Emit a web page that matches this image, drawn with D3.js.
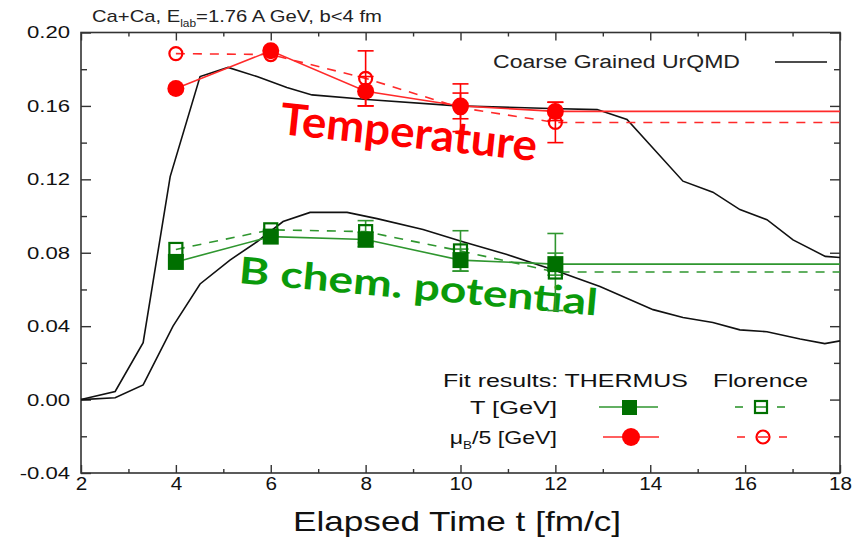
<!DOCTYPE html>
<html>
<head>
<meta charset="utf-8">
<script src="https://cdn.jsdelivr.net/npm/d3@7"></script>
<style>
  html, body { margin: 0; padding: 0; background: #fff; }
  svg { display: block; }
</style>
</head>
<body>
<svg id="chart" width="854" height="540"></svg>
<script>
// ---------------- DATA ----------------
const xTicks = [2, 4, 6, 8, 10, 12, 14, 16, 18];
const xMinorTicks = [3, 5, 7, 9, 11, 13, 15, 17];
const yTicks = [-0.04, 0.00, 0.04, 0.08, 0.12, 0.16, 0.20];
const yMinorTicks = [-0.02, 0.02, 0.06, 0.10, 0.14, 0.18];

// Coarse Grained UrQMD curves
const urqmdTimeA = [2, 2.72, 3.31, 3.88, 4.51, 5.10, 5.71, 6.34, 6.87, 8.03, 9.93, 11.89, 12.88, 13.51, 14.69, 15.32, 15.89, 16.46, 17.01, 17.69, 18];
const urqmdValA  = [0, 0.0044, 0.031, 0.1215, 0.176, 0.181, 0.176, 0.170, 0.166, 0.1635, 0.160, 0.1586, 0.158, 0.1526, 0.119, 0.113, 0.1035, 0.098, 0.087, 0.078, 0.0774];
const urqmdTimeB = [2, 2.72, 3.31, 3.94, 4.51, 5.14, 5.71, 6.26, 6.83, 7.61, 8.24, 9.21, 10.05, 10.98, 12.03, 12.94, 14.06, 14.69, 15.32, 15.89, 16.46, 17.16, 17.68, 18];
const urqmdValB  = [0, 0.001, 0.008, 0.040, 0.063, 0.076, 0.086, 0.097, 0.102, 0.102, 0.0986, 0.0927, 0.086, 0.079, 0.070, 0.0616, 0.049, 0.0447, 0.042, 0.038, 0.037, 0.033, 0.0305, 0.032];

// Fit results
const fitTimes = [4, 6, 8, 10, 12];
const plateauEnd = 18;
const redThermus      = [0.1695, 0.190, 0.168, 0.160, 0.157];
const redThermusErr   = [0, 0, 0.008, 0.007, 0.005];
const redFlorence     = [0.1885, 0.188, 0.175, 0.159, 0.151];
const redFlorenceErr  = [0, 0, 0.015, 0.013, 0.011];
const greenThermus     = [0.075, 0.0888, 0.0872, 0.076, 0.0738];
const greenThermusErr  = [0, 0, 0.004, 0.006, 0.006];
const greenFlorence    = [0.0818, 0.0925, 0.0915, 0.081, 0.0695];
const greenFlorenceErr = [0, 0, 0.006, 0.011, 0.021];

// ---------------- STYLE ----------------
const RED = "#ff0000", RED_LINE = "#ff2a2a";
const GREEN = "#007000", GREEN_LINE = "#2f962f", GREEN_TEXT = "#0a9a0a";
const AXIS = "#333";
const FONT = "'Liberation Sans', Arial, sans-serif";

const svg = d3.select("#chart");
const x = d3.scaleLinear().domain([2, 18]).range([81, 840]);
const y = d3.scaleLinear().domain([-0.04, 0.20]).range([473, 32.5]);

function stretch(sel, f) {
  sel.each(function () {
    const w = this.getComputedTextLength();
    this.setAttribute("textLength", w * f);
    this.setAttribute("lengthAdjust", "spacingAndGlyphs");
  });
}

// ---------------- ANNOTATIONS (drawn under data) ----------------
svg.append("text")
  .attr("transform", `translate(279,134) rotate(6)`)
  .attr("font-family", "Lato, 'Open Sans', sans-serif")
  .attr("font-weight", 700).attr("font-size", 44)
  .attr("fill", RED)
  .attr("textLength", 258).attr("lengthAdjust", "spacingAndGlyphs")
  .text("Temperature");

svg.append("text")
  .attr("transform", `translate(238,283) rotate(5.2)`)
  .attr("font-family", "Lato, 'Open Sans', sans-serif")
  .attr("font-weight", 700).attr("font-size", 37)
  .attr("fill", GREEN_TEXT)
  .attr("textLength", 360).attr("lengthAdjust", "spacingAndGlyphs")
  .text("B chem. potential");

// ---------------- AXES ----------------
const gx = svg.append("g").attr("transform", `translate(0,${y(-0.04)})`)
  .call(d3.axisBottom(x).tickValues(xTicks).tickSizeInner(-8).tickSizeOuter(0).tickPadding(4).tickFormat(d3.format("d")));
const gxm = svg.append("g").attr("transform", `translate(0,${y(-0.04)})`)
  .call(d3.axisBottom(x).tickValues(xMinorTicks).tickSizeInner(-4).tickSizeOuter(0).tickFormat(""));
const gxt = svg.append("g").attr("transform", `translate(0,${y(0.20)})`)
  .call(d3.axisTop(x).tickValues(xTicks).tickSizeInner(-8).tickSizeOuter(0).tickFormat(""));
const gxtm = svg.append("g").attr("transform", `translate(0,${y(0.20)})`)
  .call(d3.axisTop(x).tickValues(xMinorTicks).tickSizeInner(-4).tickSizeOuter(0).tickFormat(""));
const gy = svg.append("g").attr("transform", `translate(${x(2)},0)`)
  .call(d3.axisLeft(y).tickValues(yTicks).tickSizeInner(-10).tickSizeOuter(0).tickPadding(11).tickFormat(d => d.toFixed(2)));
const gym = svg.append("g").attr("transform", `translate(${x(2)},0)`)
  .call(d3.axisLeft(y).tickValues(yMinorTicks).tickSizeInner(-6).tickSizeOuter(0).tickFormat(""));
const gyr = svg.append("g").attr("transform", `translate(${x(18)},0)`)
  .call(d3.axisRight(y).tickValues(yTicks).tickSizeInner(-10).tickSizeOuter(0).tickFormat(""));
const gyrm = svg.append("g").attr("transform", `translate(${x(18)},0)`)
  .call(d3.axisRight(y).tickValues(yMinorTicks).tickSizeInner(-6).tickSizeOuter(0).tickFormat(""));

[gx, gxm, gxt, gxtm, gy, gym, gyr, gyrm].forEach(g => {
  g.select(".domain").remove();
  g.selectAll(".tick line").attr("stroke", AXIS).attr("stroke-width", 1.4);
});
gx.selectAll(".tick text").attr("font-family", FONT).attr("font-size", 18).attr("fill", "#111");
stretch(gx.selectAll(".tick text"), 1.15);
gy.selectAll(".tick text").attr("font-family", FONT).attr("font-size", 17).attr("fill", "#111");
stretch(gy.selectAll(".tick text"), 1.3);

svg.append("rect")
  .attr("x", x(2)).attr("y", y(0.20))
  .attr("width", x(18) - x(2)).attr("height", y(-0.04) - y(0.20))
  .attr("fill", "none").attr("stroke", AXIS).attr("stroke-width", 1.6);

// axis title
svg.append("text")
  .attr("x", 457).attr("y", 531).attr("text-anchor", "middle")
  .attr("font-family", FONT).attr("font-size", 28).attr("fill", "#111")
  .attr("textLength", 328).attr("lengthAdjust", "spacingAndGlyphs")
  .text("Elapsed Time t [fm/c]");

// title
const title = svg.append("text")
  .attr("transform", "translate(92,22) scale(1.19,1)")
  .attr("font-family", FONT).attr("font-size", 17).attr("fill", "#222");
title.append("tspan").text("Ca+Ca, E");
title.append("tspan").attr("font-size", 10).attr("dy", 5).text("lab");
title.append("tspan").attr("dy", -5).text("=1.76 A GeV, b<4 fm");

// ---------------- UrQMD CURVES ----------------
const line = d3.line().x(d => x(d[0])).y(d => y(d[1]));
svg.append("path").datum(d3.zip(urqmdTimeA, urqmdValA))
  .attr("d", line).attr("fill", "none").attr("stroke", "#111").attr("stroke-width", 1.6);
svg.append("path").datum(d3.zip(urqmdTimeB, urqmdValB))
  .attr("d", line).attr("fill", "none").attr("stroke", "#111").attr("stroke-width", 1.6);

// ---------------- FIT SERIES ----------------
function seriesLine(vals, color, dashed) {
  const pts = d3.zip(fitTimes, vals);
  pts.push([plateauEnd, vals[vals.length - 1]]);
  svg.append("path").datum(pts).attr("d", line)
    .attr("fill", "none").attr("stroke", color).attr("stroke-width", 1.6)
    .attr("stroke-dasharray", dashed ? "9,8" : null);
}
function errorBars(vals, errs, color) {
  const g = svg.append("g").attr("stroke", color).attr("stroke-width", 1.6);
  fitTimes.forEach((t, i) => {
    if (!errs[i]) return;
    const cx = x(t), y1 = y(vals[i] + errs[i]), y2 = y(vals[i] - errs[i]);
    g.append("line").attr("x1", cx).attr("x2", cx).attr("y1", y1).attr("y2", y2);
    g.append("line").attr("x1", cx - 8).attr("x2", cx + 8).attr("y1", y1).attr("y2", y1);
    g.append("line").attr("x1", cx - 8).attr("x2", cx + 8).attr("y1", y2).attr("y2", y2);
  });
}

seriesLine(greenFlorence, GREEN_LINE, true);
seriesLine(greenThermus, GREEN_LINE, false);
seriesLine(redFlorence, RED_LINE, true);
seriesLine(redThermus, RED_LINE, false);

errorBars(greenThermus, greenThermusErr, GREEN_LINE);
errorBars(greenFlorence, greenFlorenceErr, GREEN_LINE);
errorBars(redThermus, redThermusErr, RED);
errorBars(redFlorence, redFlorenceErr, RED);

// markers
svg.append("g").selectAll("rect").data(d3.zip(fitTimes, greenThermus)).join("rect")
  .attr("x", d => x(d[0]) - 8).attr("y", d => y(d[1]) - 8)
  .attr("width", 16).attr("height", 16).attr("fill", GREEN);
svg.append("g").selectAll("rect").data(d3.zip(fitTimes, greenFlorence)).join("rect")
  .attr("x", d => x(d[0]) - 6.5).attr("y", d => y(d[1]) - 6.5)
  .attr("width", 13).attr("height", 13).attr("fill", "none")
  .attr("stroke", GREEN).attr("stroke-width", 2.2);
svg.append("g").selectAll("circle").data(d3.zip(fitTimes, redThermus)).join("circle")
  .attr("cx", d => x(d[0])).attr("cy", d => y(d[1])).attr("r", 8.5).attr("fill", RED);
svg.append("g").selectAll("circle").data(d3.zip(fitTimes, redFlorence)).join("circle")
  .attr("cx", d => x(d[0])).attr("cy", d => y(d[1])).attr("r", 6.5)
  .attr("fill", "none").attr("stroke", RED).attr("stroke-width", 2.2);

// ---------------- LEGENDS ----------------
svg.append("text").attr("x", 493).attr("y", 68)
  .attr("font-family", FONT).attr("font-size", 18).attr("fill", "#222")
  .attr("textLength", 247).attr("lengthAdjust", "spacingAndGlyphs")
  .text("Coarse Grained UrQMD");
svg.append("line").attr("x1", 775).attr("x2", 827).attr("y1", 62).attr("y2", 62)
  .attr("stroke", "#111").attr("stroke-width", 1.6);

svg.append("text").attr("x", 443).attr("y", 387)
  .attr("font-family", FONT).attr("font-size", 19).attr("fill", "#111")
  .attr("textLength", 245).attr("lengthAdjust", "spacingAndGlyphs")
  .text("Fit results: THERMUS");
svg.append("text").attr("x", 713).attr("y", 387)
  .attr("font-family", FONT).attr("font-size", 19).attr("fill", "#111")
  .attr("textLength", 95).attr("lengthAdjust", "spacingAndGlyphs")
  .text("Florence");
svg.append("text").attr("x", 557).attr("y", 414).attr("text-anchor", "end")
  .attr("font-family", FONT).attr("font-size", 19).attr("fill", "#111")
  .attr("textLength", 87).attr("lengthAdjust", "spacingAndGlyphs")
  .text("T [GeV]");
const mu = svg.append("text").attr("transform", "translate(557,444) scale(1.22,1)")
  .attr("text-anchor", "end")
  .attr("font-family", FONT).attr("font-size", 19).attr("fill", "#111");
mu.append("tspan").text("μ");
mu.append("tspan").attr("font-size", 11).attr("dy", 5).text("B");
mu.append("tspan").attr("dy", -5).text("/5 [GeV]");

const lg = svg.append("g");
// THERMUS T (green filled square)
lg.append("line").attr("x1", 599).attr("x2", 658).attr("y1", 407).attr("y2", 407)
  .attr("stroke", GREEN_LINE).attr("stroke-width", 1.6);
lg.append("rect").attr("x", 622).attr("y", 400).attr("width", 15).attr("height", 15).attr("fill", GREEN);
// Florence T (green open square)
[[735, 743], [777, 785], [756, 766]].forEach(s =>
  lg.append("line").attr("x1", s[0]).attr("x2", s[1]).attr("y1", 407).attr("y2", 407)
    .attr("stroke", GREEN_LINE).attr("stroke-width", 1.6));
lg.append("rect").attr("x", 755).attr("y", 401).attr("width", 12).attr("height", 12)
  .attr("fill", "none").attr("stroke", GREEN).attr("stroke-width", 2.2);
// THERMUS mu (red filled circle)
lg.append("line").attr("x1", 603).attr("x2", 659).attr("y1", 437).attr("y2", 437)
  .attr("stroke", RED_LINE).attr("stroke-width", 1.6);
lg.append("circle").attr("cx", 631).attr("cy", 437).attr("r", 9).attr("fill", RED);
// Florence mu (red open circle)
[[737, 745], [779, 787], [758, 768]].forEach(s =>
  lg.append("line").attr("x1", s[0]).attr("x2", s[1]).attr("y1", 437).attr("y2", 437)
    .attr("stroke", RED_LINE).attr("stroke-width", 1.6));
lg.append("circle").attr("cx", 763).attr("cy", 437).attr("r", 6.5)
  .attr("fill", "none").attr("stroke", RED).attr("stroke-width", 2.2);
</script>
</body>
</html>
